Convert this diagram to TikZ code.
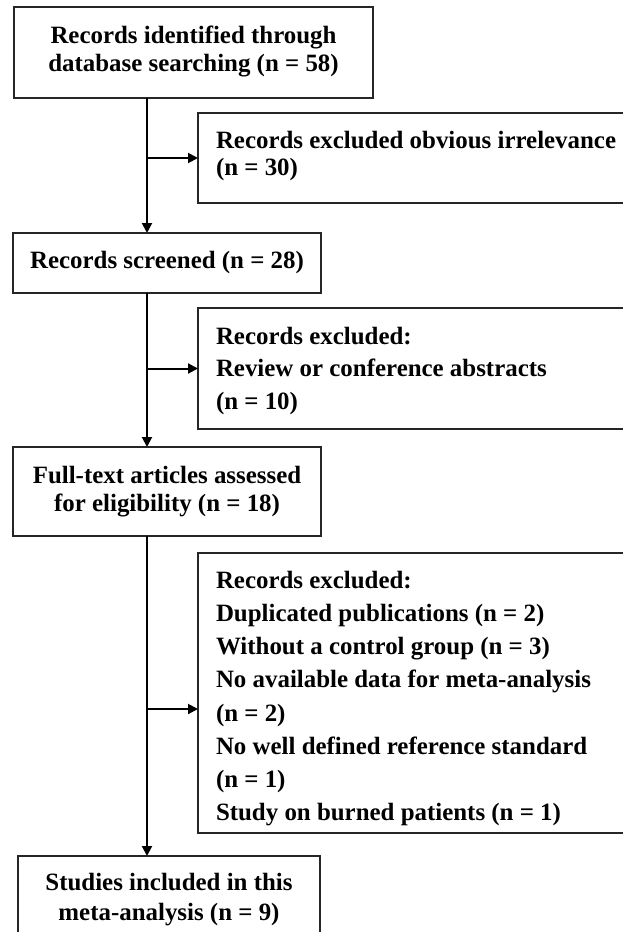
\documentclass[tikz,border=0pt]{standalone}
\usepackage{fontspec}
\setmainfont{Liberation Serif}
\usetikzlibrary{arrows.meta}
\begin{document}
\begin{tikzpicture}[x=1bp,y=-1bp,
  box/.style={draw=black!85, line width=2bp, inner sep=0pt, outer sep=0pt, anchor=north west},
  txt/.style={inner sep=0pt, outer sep=0pt, font=\bfseries\fontsize{25}{#1}\selectfont},
  txt/.default=28,
  conn/.style={line width=2bp, draw=black},
  arr/.style={conn, -{Triangle[length=10bp,width=10bp]}}]
\useasboundingbox (0,0) rectangle (623,932);
\clip (0,0) rectangle (623,932);
% boxes
\node[box, minimum width=359bp, minimum height=91bp]  (b1) at (14,7) {};
\node[box, minimum width=460bp, minimum height=90bp]  (b2) at (198,113) {};
\node[box, minimum width=308bp, minimum height=60bp]  (b3) at (13,233) {};
\node[box, minimum width=460bp, minimum height=121bp] (b4) at (198,308) {};
\node[box, minimum width=308bp, minimum height=89bp]  (b5) at (13,447) {};
\node[box, minimum width=460bp, minimum height=280bp] (b6) at (198,553) {};
\node[box, minimum width=302bp, minimum height=100bp] (b7) at (18,856) {};
% texts
\node[txt=28, align=center] (t1) at (193.5,51.5) {Records identified through\\database searching (n = 58)};
\node[txt=28, align=left, anchor=west] (t2) at (216,156) {Records excluded obvious irrelevance\\(n = 30)};
\node[txt=28, align=center] (t3) at (b3.center) {Records screened (n = 28)};
\node[txt=33, align=left, anchor=west] (t4) at (216,371) {Records excluded:\\Review or conference abstracts\\(n = 10)};
\node[txt=28, align=center] (t5) at (b5.center) {Full-text articles assessed\\for eligibility (n = 18)};
\node[txt=33.3, align=left, anchor=west] (t6) at (216,698.5) {Records excluded:\\Duplicated publications (n = 2)\\Without a control group (n = 3)\\No available data for meta-analysis\\(n = 2)\\No well defined reference standard\\(n = 1)\\Study on burned patients (n = 1)};
\node[txt=29.5, align=center] (t7) at (169,899.5) {Studies included in this\\meta-analysis (n = 9)};
% connectors
\coordinate (s) at (147,0);
\coordinate (j3) at (147,709);
\draw[arr] (b1.south -| s) -- (b3.north -| s);
\draw[arr] (b2.west -| s) -- (b2.west);
\draw[arr] (b3.south -| s) -- (b5.north -| s);
\draw[arr] (b4.west -| s) -- (b4.west);
\draw[arr] (b5.south -| s) -- (b7.north -| s);
\draw[arr] (j3) -- (j3 -| b6.west);
\end{tikzpicture}
\end{document}
